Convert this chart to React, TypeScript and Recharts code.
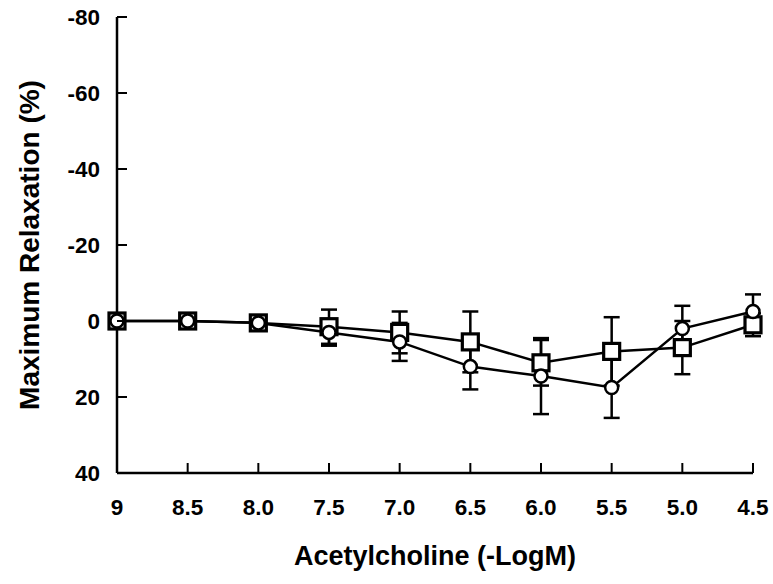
import React from 'react';
import { LineChart, Line, XAxis, YAxis, ErrorBar, Label } from 'recharts';

const concentrations = [9, 8.5, 8.0, 7.5, 7.0, 6.5, 6.0, 5.5, 5.0, 4.5];
const xTickLabels = ['9', '8.5', '8.0', '7.5', '7.0', '6.5', '6.0', '5.5', '5.0', '4.5'];
const yTicks = [-80, -60, -40, -20, 0, 20, 40];
const squareValues = [0, 0, 0.5, 1.5, 3, 5.5, 11, 8, 7, 1];
const squareErrors = [0, 0, 0, 4.5, 5.5, 8, 6, 9, 7, 3];
const circleValues = [0, 0, 0.5, 3, 5.5, 12, 14.5, 17.5, 2, -2.5];
const circleErrors = [0, 0, 0, 3.5, 5, 6, 10, 8, 6, 4.5];

const data = concentrations.map((x, i) => ({
  x,
  square: squareValues[i],
  squareErr: squareErrors[i],
  circle: circleValues[i],
  circleErr: circleErrors[i],
}));

const FONT = '"Liberation Sans", Arial, sans-serif';

const YTick = (props: any) => {
  const { x, y, payload } = props;
  return (
    <g>
      <line x1={x} x2={x + 10} y1={y} y2={y} stroke="#000" strokeWidth={2} />
      <text x={x - 17} y={y} dy="0.36em" textAnchor="end" fontFamily={FONT} fontWeight="bold" fontSize={22.5} fill="#000">
        {payload.value}
      </text>
    </g>
  );
};

const XTick = (props: any) => {
  const { x, y, payload } = props;
  const idx = concentrations.indexOf(payload.value);
  return (
    <g>
      <line x1={x} x2={x} y1={y} y2={y - 10} stroke="#000" strokeWidth={2} />
      <text x={x} y={y + 42} textAnchor="middle" fontFamily={FONT} fontWeight="bold" fontSize={22.5} fill="#000">
        {idx >= 0 ? xTickLabels[idx] : payload.value}
      </text>
    </g>
  );
};

const YTitle = (props: any) => {
  const vb = props.viewBox || { x: 0, y: 17, width: 117, height: 456 };
  const cx = vb.x + 29;
  const cy = vb.y + vb.height / 2;
  return (
    <text
      transform={`translate(${cx},${cy}) rotate(-90)`}
      textAnchor="middle"
      dominantBaseline="central"
      fontFamily={FONT}
      fontWeight="bold"
      fontSize={28}
      fill="#000"
    >
      Maximum Relaxation (%)
    </text>
  );
};

const XTitle = (props: any) => {
  const vb = props.viewBox || { x: 117, y: 473, width: 636, height: 111 };
  return (
    <text
      x={vb.x + vb.width / 2}
      y={vb.y + 92}
      textAnchor="middle"
      fontFamily={FONT}
      fontWeight="bold"
      fontSize={27}
      fill="#000"
    >
      Acetylcholine (-LogM)
    </text>
  );
};

const SquareDot = (props: any) => {
  const { cx, cy, index } = props;
  if (cx == null || cy == null) return <g key={`s${index}`} />;
  return (
    <rect key={`s${index}`} x={cx - 8} y={cy - 8} width={16} height={16} fill="#fff" stroke="#000" strokeWidth={3.2} />
  );
};

const CircleDot = (props: any) => {
  const { cx, cy, index } = props;
  if (cx == null || cy == null) return <g key={`c${index}`} />;
  return <circle key={`c${index}`} cx={cx} cy={cy} r={6.5} fill="#fff" stroke="#000" strokeWidth={2.5} />;
};

export default function App() {
  return (
    <div style={{ position: 'absolute', left: 0, top: 0, background: '#fff' }}>
      <LineChart width={773} height={584} data={data} margin={{ top: 17, right: 20, bottom: 0, left: 0 }}>
        <XAxis
          dataKey="x"
          type="number"
          domain={[4.5, 9]}
          reversed
          ticks={concentrations}
          interval={0}
          tickSize={0}
          tickMargin={0}
          tickLine={false}
          tick={<XTick />}
          axisLine={{ stroke: '#000', strokeWidth: 2.5 }}
          height={111}
        >
          <Label content={<XTitle />} />
        </XAxis>
        <YAxis
          type="number"
          domain={[-80, 40]}
          reversed
          ticks={yTicks}
          interval={0}
          tickSize={0}
          tickMargin={0}
          tickLine={false}
          tick={<YTick />}
          axisLine={{ stroke: '#000', strokeWidth: 2.5 }}
          width={117}
          allowDataOverflow
        >
          <Label content={<YTitle />} />
        </YAxis>
        <Line
          type="linear"
          dataKey="square"
          stroke="#000"
          strokeWidth={2.5}
          dot={<SquareDot />}
          activeDot={false}
          isAnimationActive={false}
        >
          <ErrorBar dataKey="squareErr" width={8} stroke="#000" strokeWidth={2.5} direction="y" />
        </Line>
        <Line
          type="linear"
          dataKey="circle"
          stroke="#000"
          strokeWidth={2.5}
          dot={<CircleDot />}
          activeDot={false}
          isAnimationActive={false}
        >
          <ErrorBar dataKey="circleErr" width={8} stroke="#000" strokeWidth={2.5} direction="y" />
        </Line>
      </LineChart>
    </div>
  );
}
